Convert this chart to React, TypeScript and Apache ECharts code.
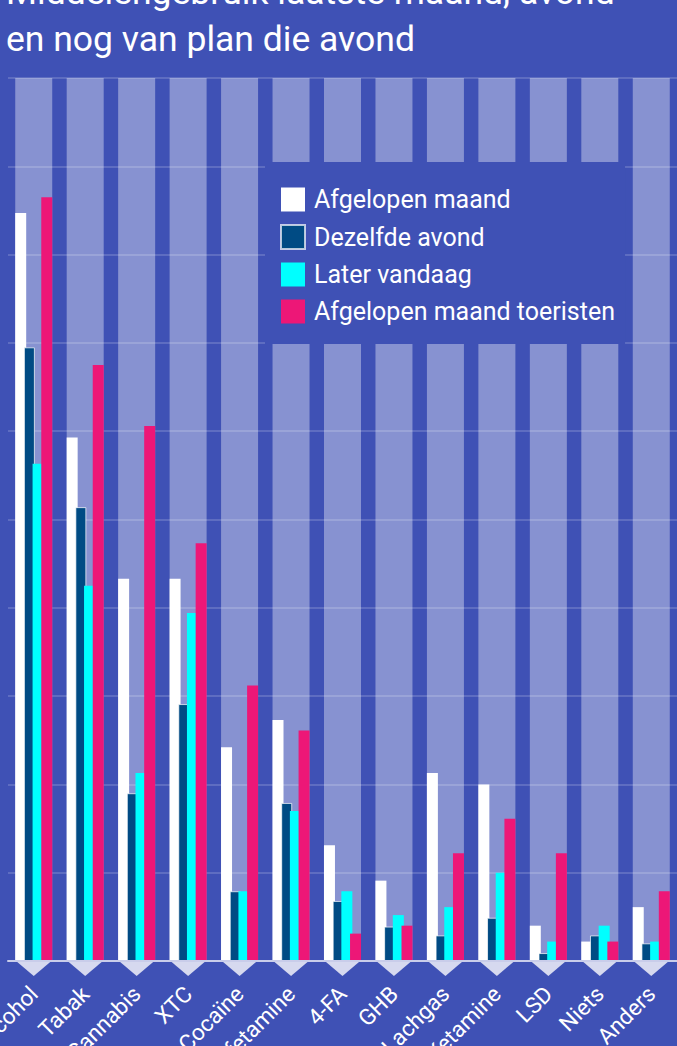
import React, { useEffect, useRef } from "react";
import * as echarts from "echarts";

const categories = ["Alcohol", "Tabak", "Cannabis", "XTC", "Cocaïne", "Amfetamine", "4-FA", "GHB", "Lachgas", "Ketamine", "LSD", "Niets", "Anders"];
const afgelopenMaand = [84.7, 59.3, 43.3, 43.3, 24.2, 27.3, 13.1, 9.1, 21.3, 20.0, 4.0, 2.2, 6.1];
const dezelfdeAvond = [69.5, 51.4, 19.0, 29.1, 7.9, 17.9, 6.8, 3.9, 2.9, 4.9, 0.9, 2.9, 2.0];
const laterVandaag = [56.3, 42.5, 21.3, 39.4, 7.9, 17.0, 7.9, 5.2, 6.1, 10.0, 2.2, 4.0, 2.2];
const toeristen = [86.5, 67.5, 60.6, 47.3, 31.2, 26.1, 3.1, 4.0, 12.2, 16.1, 12.2, 2.2, 7.9];
const shadowValues = categories.map(() => 100);
const baseMarks = categories.map(() => 0);

const BG = "#3f51b5";
const FONT = "Roboto, 'Noto Sans', sans-serif";

export default function App() {
  const ref = useRef<HTMLDivElement>(null);
  useEffect(() => {
    document.body.style.margin = "0";
    const chart = echarts.init(ref.current!, null, { renderer: "svg" });
    const barCommon = {
      type: "bar",
      xAxisIndex: 0,
      yAxisIndex: 0,
      barWidth: 11,
      barGap: "-21%",
      z: 3,
    };
    chart.setOption({
      animation: false,
      backgroundColor: BG,
      title: {
        text: "Middelengebruik laatste maand, avond\nen nog van plan die avond",
        left: 1,
        top: -37,
        textStyle: { color: "#ffffff", fontSize: 35.5, fontWeight: "normal", lineHeight: 47, fontFamily: FONT },
      },
      legend: {
        orient: "vertical",
        left: 265,
        top: 162,
        padding: [25, 10, 20, 15],
        backgroundColor: BG,
        itemWidth: 24,
        itemHeight: 24,
        itemGap: 12,
        icon: "rect",
        data: ["Afgelopen maand", "Dezelfde avond", "Later vandaag", "Afgelopen maand toeristen"],
        textStyle: { color: "#ffffff", fontSize: 25, fontFamily: FONT, padding: [0, 0, 0, 4] },
        z: 10,
      },
      grid: { left: 8, right: 0, top: 78, bottom: 85, containLabel: false, outerBoundsMode: "none" },
      xAxis: [
        {
          type: "category",
          data: categories,
          axisLine: { show: true, lineStyle: { color: "#c9cdea", width: 2 } },
          axisTick: { show: false },
          axisLabel: {
            interval: 0,
            rotate: 45,
            margin: 29,
            color: "#ffffff",
            fontSize: 22.5,
            fontFamily: FONT,
          },
          z: 4,
        },
        {
          type: "category",
          data: categories,
          show: false,
        },
      ],
      yAxis: {
        type: "value",
        min: 0,
        max: 100,
        interval: 10,
        axisLabel: { show: false },
        axisLine: { show: false },
        axisTick: { show: false },
        splitLine: { show: true, lineStyle: { color: "rgba(255,255,255,0.22)", width: 1.5 } },
      },
      series: [
        {
          type: "bar",
          name: "shadow",
          xAxisIndex: 1,
          data: shadowValues,
          barWidth: 37,
          itemStyle: { color: "rgba(255,255,255,0.375)" },
          silent: true,
          z: 1,
        },
        { ...barCommon, name: "Afgelopen maand", data: afgelopenMaand, itemStyle: { color: "#ffffff" } },
        {
          ...barCommon,
          name: "Dezelfde avond",
          data: dezelfdeAvond,
          itemStyle: { color: "#004b84", borderColor: "rgba(255,255,255,0.7)", borderWidth: 1 },
        },
        { ...barCommon, name: "Later vandaag", data: laterVandaag, itemStyle: { color: "#00ffff" } },
        { ...barCommon, name: "Afgelopen maand toeristen", data: toeristen, itemStyle: { color: "#ed1777" } },
        {
          type: "scatter",
          name: "marks",
          xAxisIndex: 0,
          data: baseMarks,
          symbol: "triangle",
          symbolRotate: 180,
          symbolSize: [33, 14],
          symbolOffset: [0, 8],
          itemStyle: { color: "#d6d9ef", opacity: 1 },
          clip: false,
          silent: true,
          z: 5,
        },
      ],
    });
    return () => chart.dispose();
  }, []);
  return <div ref={ref} style={{ width: 677, height: 1046, background: BG }} />;
}
